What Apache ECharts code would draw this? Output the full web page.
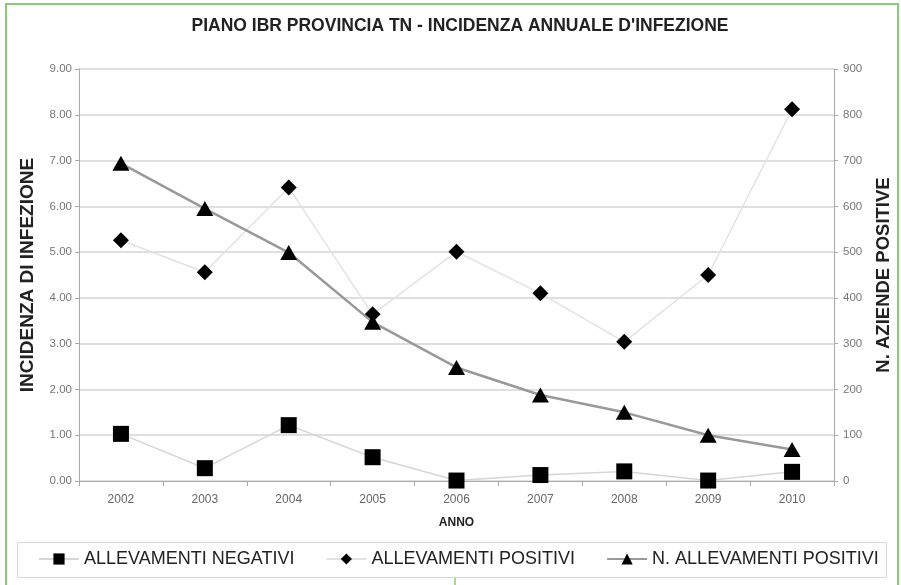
<!DOCTYPE html>
<html><head><meta charset="utf-8">
<script src="https://cdn.jsdelivr.net/npm/echarts@6/dist/echarts.min.js"></script>
<style>html,body{margin:0;padding:0;background:#fff}#c{width:901px;height:585px}</style>
</head><body><div id="c"></div>
<script>
const years = ['2002','2003','2004','2005','2006','2007','2008','2009','2010'];
const allevamentiNegativi = [1.03, 0.28, 1.22, 0.52, 0.01, 0.13, 0.21, 0.01, 0.20];
const allevamentiPositivi = [5.26, 4.56, 6.41, 3.64, 5.01, 4.10, 3.04, 4.50, 8.12];
const nAllevamentiPositivi = [694, 595, 499, 347, 248, 188, 150, 100, 69];
const leftTicks = {min:0, max:9, interval:1};
const rightTicks = {min:0, max:900, interval:100};

const chart = echarts.init(document.getElementById('c'));
const font = 'Liberation Sans, Arial, sans-serif';
chart.setOption({
  animation:false,
  backgroundColor:'#fff',
  textStyle:{fontFamily:font},
  title:{text:"PIANO IBR PROVINCIA TN - INCIDENZA ANNUALE D'INFEZIONE", left:455, top:12, textAlign:'center',
    textStyle:{fontSize:17.5, fontWeight:'bold', color:'#222', fontFamily:font}},
  graphic:[
    {type:'rect', shape:{x:6, y:4, width:892, height:600}, style:{fill:'none', stroke:'#8cc97a', lineWidth:2}, z:-1},
    {type:'line', shape:{x1:455, y1:577, x2:455, y2:585}, style:{stroke:'#8cc97a', lineWidth:1.5}},
    {type:'rect', shape:{x:17.5, y:542.5, width:869, height:35}, style:{fill:'none', stroke:'#d8d8d8', lineWidth:1}}
  ],
  grid:{left:79, right:63, top:69, bottom:104},
  legend:{
    top:550, left:38, padding:0, itemGap:31, itemWidth:40, itemHeight:14,
    textStyle:{fontSize:18, color:'#222', fontFamily:font},
    data:['ALLEVAMENTI NEGATIVI','ALLEVAMENTI POSITIVI','N. ALLEVAMENTI POSITIVI']
  },
  xAxis:{type:'category', data:years, boundaryGap:true,
    name:'ANNO', nameLocation:'middle', nameGap:36,
    nameTextStyle:{fontSize:12, fontWeight:'bold', color:'#222'},
    axisLine:{lineStyle:{color:'#aaa'}}, axisTick:{show:true, lineStyle:{color:'#aaa'}},
    axisLabel:{fontSize:12, color:'#666', margin:13}},
  yAxis:[
    {type:'value', min:leftTicks.min, max:leftTicks.max, interval:leftTicks.interval,
     name:'INCIDENZA DI INFEZIONE', nameLocation:'middle', nameGap:42, nameRotate:90,
     nameTextStyle:{fontSize:19, fontWeight:'bold', color:'#222'},
     axisLine:{show:true, lineStyle:{color:'#aaa'}}, axisTick:{show:true, length:4, lineStyle:{color:'#aaa'}},
     axisLabel:{fontSize:11.5, color:'#777', margin:7, formatter:v=>v.toFixed(2)},
     splitLine:{lineStyle:{color:'#d4d4d4', width:1.5}}},
    {type:'value', min:rightTicks.min, max:rightTicks.max, interval:rightTicks.interval,
     name:'N. AZIENDE POSITIVE', nameLocation:'middle', nameGap:40, nameRotate:90,
     nameTextStyle:{fontSize:18.5, fontWeight:'bold', color:'#222'},
     axisLine:{show:true, lineStyle:{color:'#aaa'}}, axisTick:{show:true, length:4, lineStyle:{color:'#aaa'}},
     axisLabel:{fontSize:11.5, color:'#777', margin:9},
     splitLine:{show:false}}
  ],
  series:[
    {name:'ALLEVAMENTI NEGATIVI', type:'line', yAxisIndex:0, data:allevamentiNegativi,
     symbol:'rect', symbolSize:16, itemStyle:{color:'#000'},
     lineStyle:{color:'#d6d6d6', width:1.5}, z:3},
    {name:'ALLEVAMENTI POSITIVI', type:'line', yAxisIndex:0, data:allevamentiPositivi,
     symbol:'diamond', symbolSize:16, itemStyle:{color:'#000'},
     lineStyle:{color:'#e2e2e2', width:1.5}, z:4},
    {name:'N. ALLEVAMENTI POSITIVI', type:'line', yAxisIndex:1, data:nAllevamentiPositivi,
     symbol:'triangle', symbolSize:[17,15], itemStyle:{color:'#000'},
     lineStyle:{color:'#999', width:2.5}, z:5}
  ]
});
</script></body></html>
